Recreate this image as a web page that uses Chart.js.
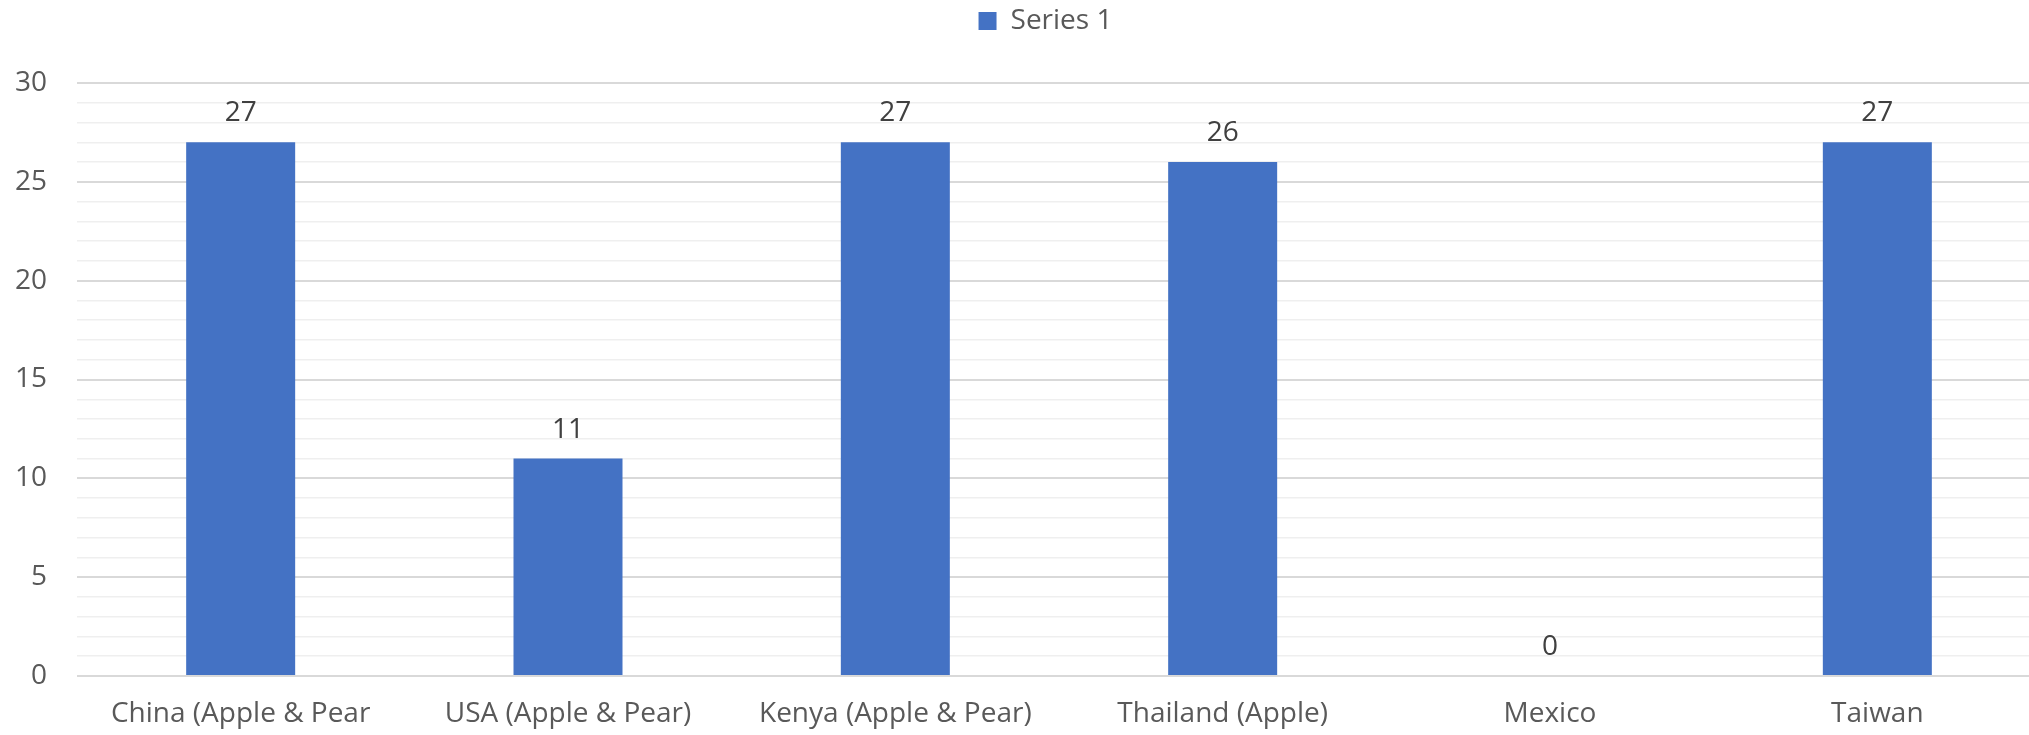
<!DOCTYPE html>
<html>
<head>
<meta charset="utf-8">
<script src="https://cdn.jsdelivr.net/npm/chart.js@4"></script>
<style>
html,body{margin:0;padding:0;background:#fff;overflow:hidden;}
#wrap{width:2029px;height:735px;overflow:hidden;}
canvas{display:block;}
</style>
</head>
<body>
<div id="wrap"><canvas id="c" width="2041" height="735"></canvas></div>
<script>
const categories = ["China (Apple & Pear", "USA (Apple & Pear)", "Kenya (Apple & Pear)", "Thailand (Apple)", "Mexico", "Taiwan"];
const series1 = [27, 11, 27, 26, 0, 27];
const seriesName = "Series 1";
const yMin = 0, yMax = 30, yMajor = 5;

const FONT = "'Open Sans', 'Liberation Sans', sans-serif";

const dataLabels = {
  id: 'dataLabels',
  afterDatasetsDraw(chart) {
    const ctx = chart.ctx;
    ctx.save();
    ctx.font = "28px " + FONT;
    ctx.fillStyle = '#404040';
    ctx.textAlign = 'center';
    ctx.textBaseline = 'alphabetic';
    chart.data.datasets.forEach((ds, i) => {
      chart.getDatasetMeta(i).data.forEach((el, j) => {
        ctx.fillText(String(ds.data[j]), el.x, el.y - 21);
      });
    });
    ctx.restore();
  }
};

const legendTweak = {
  id: 'legendTweak',
  beforeInit(chart) {
    const lg = chart.legend;
    if (lg) {
      const fit = lg.fit;
      lg.fit = function () { fit.call(this); this.height += 38; };
    }
  },
  afterLayout(chart) {
    const lg = chart.legend;
    if (lg) { lg.left += 25; lg.right += 25; }
  }
};

new Chart(document.getElementById('c'), {
  type: 'bar',
  data: {
    labels: categories,
    datasets: [{
      label: seriesName,
      data: series1,
      backgroundColor: '#4472C4',
      borderWidth: 0,
      categoryPercentage: 1.0,
      barPercentage: 0.333
    }]
  },
  options: {
    responsive: false,
    animation: false,
    layout: { padding: { left: 0, right: 0, top: 0, bottom: 0 } },
    plugins: {
      legend: {
        position: 'top',
        labels: {
          boxWidth: 18, boxHeight: 18, padding: 7,
          color: '#595959',
          font: { family: FONT, size: 28 }
        }
      },
      tooltip: { enabled: false }
    },
    scales: {
      x: {
        grid: { display: false, drawTicks: false },
        border: { display: false },
        afterFit: (s) => { s.height = 59; },
        ticks: {
          color: '#595959', padding: 21, maxRotation: 0, autoSkip: false,
          font: { family: FONT, size: 28 }
        }
      },
      y: {
        min: yMin, max: yMax,
        border: { display: false },
        afterFit: (s) => { s.width = 77; },
        grid: {
          drawTicks: false,
          color: (c) => (c.tick && c.tick.value % yMajor === 0) ? '#d9d9d9' : '#efefef',
          lineWidth: (c) => (c.tick && c.tick.value % yMajor === 0) ? 2 : 1.5
        },
        ticks: {
          stepSize: 1, autoSkip: false, padding: 30,
          color: '#595959',
          font: { family: FONT, size: 28 },
          callback: (v) => (v % yMajor === 0) ? String(v) : ''
        }
      }
    }
  },
  plugins: [dataLabels, legendTweak]
});
</script>
</body>
</html>
